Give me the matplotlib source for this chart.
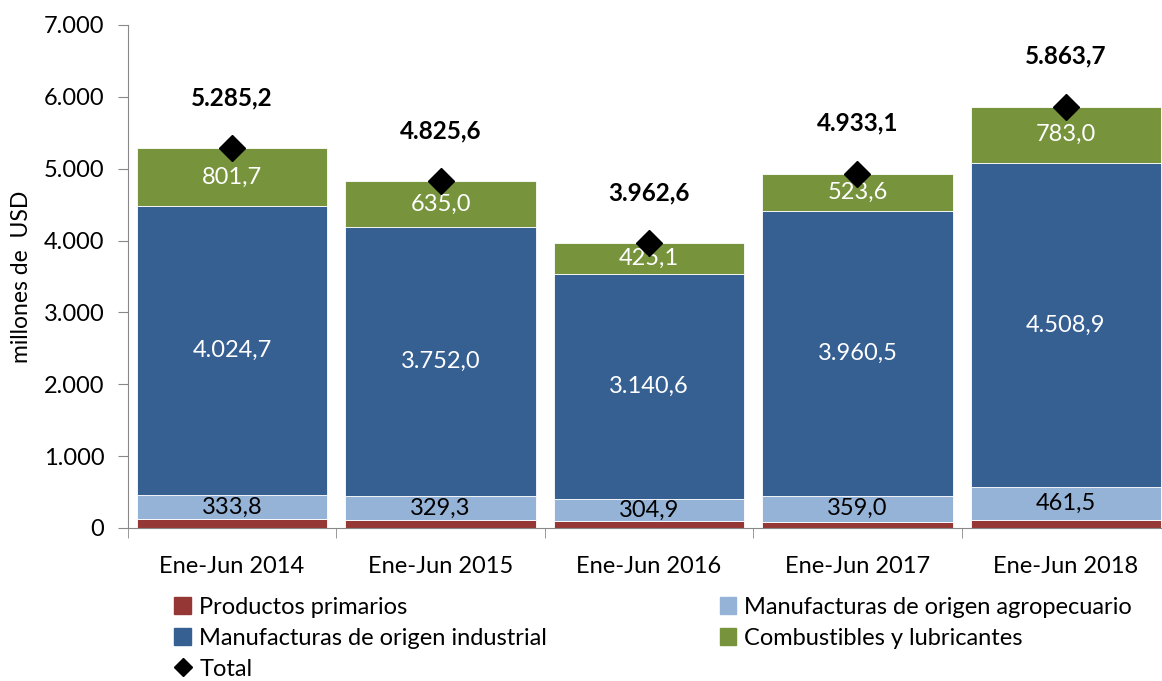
import numpy as np
import matplotlib.pyplot as plt
from matplotlib.lines import Line2D
from matplotlib.patches import Patch

plt.rcParams['font.family'] = ['Lato', 'DejaVu Sans']

# datos (millones de USD)
periodos = ['Ene-Jun 2014', 'Ene-Jun 2015', 'Ene-Jun 2016', 'Ene-Jun 2017', 'Ene-Jun 2018']
primarios = [125.0, 109.3, 92.0, 90.0, 110.3]
moa = [333.8, 329.3, 304.9, 359.0, 461.5]
moi = [4024.7, 3752.0, 3140.6, 3960.5, 4508.9]
combustibles = [801.7, 635.0, 425.1, 523.6, 783.0]
total = [5285.2, 4825.6, 3962.6, 4933.1, 5863.7]

colores = ['#953735', '#95B3D7', '#376092', '#77933C']
nombres = ['Productos primarios', 'Manufacturas de origen agropecuario',
           'Manufacturas de origen industrial', 'Combustibles y lubricantes']


def fmt(v, dec=1):
    s = f'{v:,.{dec}f}'
    return s.replace(',', 'X').replace('.', ',').replace('X', '.')


fig = plt.figure(figsize=(11.62, 6.81), dpi=100)
ax = fig.add_axes([0.110, 0.2247, 0.897, 0.7386])

x = np.arange(len(periodos))
series = [primarios, moa, moi, combustibles]
bottom = np.zeros(len(periodos))
for i, (vals, c) in enumerate(zip(series, colores)):
    vals = np.array(vals)
    ax.bar(x, vals, 0.915, bottom=bottom, color=c, edgecolor='white', linewidth=0.6, zorder=2)
    if i > 0:
        for xi, b, v in zip(x, bottom, vals):
            ax.text(xi, b + v / 2, fmt(v), ha='center', va='center', fontsize=17,
                    color='black' if i == 1 else 'white', zorder=4)
    bottom += vals

ax.plot(x, total, linestyle='none', marker='D', markersize=13, color='black', zorder=5)
for xi, t in zip(x, total):
    ax.annotate(fmt(t), (xi, t), xytext=(0, 28), textcoords='offset points',
                ha='center', va='bottom', fontsize=17.5, fontweight='bold')

ax.set_xlim(-0.5, 4.5)
ax.set_ylim(0, 7000)
ax.set_yticks(np.arange(0, 7001, 1000))
ax.set_yticklabels([fmt(v, 0) for v in np.arange(0, 7001, 1000)], fontsize=17)
ax.set_xticks(x)
ax.set_xticklabels(periodos, fontsize=17)
ax.set_xticks(np.arange(-0.5, 4.6, 1), minor=True)
ax.tick_params(axis='x', which='major', length=0, pad=20)
ax.tick_params(axis='x', which='minor', length=7, color='#888888', direction='out')
ax.tick_params(axis='y', length=7, color='#888888', direction='out', pad=10)
ax.spines['top'].set_visible(False)
ax.spines['right'].set_visible(False)
ax.spines['left'].set_color('#888888')
ax.spines['bottom'].set_color('#888888')
ax.set_ylabel('millones de  USD', fontsize=16.5, labelpad=8)

handles = [Patch(color=colores[0]), Patch(color=colores[2]),
           Line2D([], [], linestyle='none', marker='D', color='black', markersize=9),
           Patch(color=colores[1]), Patch(color=colores[3])]
labels = [nombres[0], nombres[2], 'Total', nombres[1], nombres[3]]
fig.legend(handles, labels, loc='upper left', bbox_to_anchor=(0.140, 0.141), ncol=2,
           frameon=False, fontsize=17, handlelength=0.7, handleheight=0.7, handletextpad=0.35,
           columnspacing=7.3, labelspacing=0.42, borderpad=0)

fig.savefig('out.png', dpi=100)
